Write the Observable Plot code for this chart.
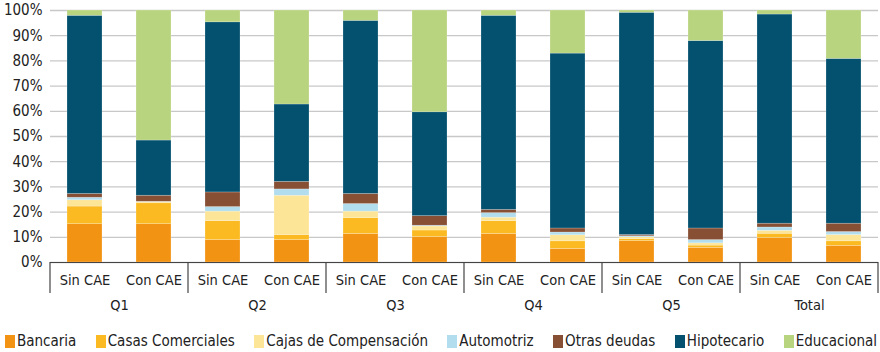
<!DOCTYPE html>
<html><head><meta charset="utf-8">
<script src="https://cdn.jsdelivr.net/npm/d3@7"></script>
<script src="https://cdn.jsdelivr.net/npm/@observablehq/plot@0.6"></script>
<style>
body{margin:0;background:#fff;font-family:"Liberation Sans Narrow","DejaVu Sans Condensed",sans-serif;color:#222;}
#chart{width:880px;height:322px;}
.legend{display:flex;justify-content:space-between;align-items:center;padding:10px 3px 0 5px;font-size:15px;color:#222;width:872px;}
.legend .item{display:flex;align-items:center;gap:2px;white-space:nowrap;}
.legend .sw{width:10px;height:13px;display:inline-block;}
</style>
</head><body>
<div id="chart"></div>
<div class="legend" id="legend"></div>
<script>
const groups = ["Q1","Q2","Q3","Q4","Q5","Total"];
const caes = ["Sin CAE","Con CAE"];
const series = ["Bancaria","Casas Comerciales","Cajas de Compensación","Automotriz","Otras deudas","Hipotecario","Educacional"];
const colors = ["#F39313","#FBBA22","#FDE597","#B1DDEE","#875035","#03516F","#B9D47F"];
// values per series, order: Q1 Sin, Q1 Con, Q2 Sin, Q2 Con, ..., Total Sin, Total Con
const bancaria     = [15.2,15.2, 8.9, 8.9,11.3,10.1,11.3, 5.4, 8.5, 5.8, 9.7, 6.6];
const casas        = [ 7.0, 8.3, 7.5, 2.0, 6.3, 2.6, 5.1, 3.0, 0.8, 0.9, 1.7, 1.8];
const cajas        = [ 2.5, 0.5, 3.8,15.6, 2.6, 1.6, 1.4, 2.4, 0.7, 0.9, 1.2, 2.5];
const automotriz   = [ 1.0, 0.1, 1.8, 2.5, 3.0, 0.3, 1.8, 1.1, 0.4, 1.3, 1.3, 1.2];
const otras        = [ 1.5, 2.4, 5.8, 3.0, 4.0, 3.8, 1.3, 1.6, 0.5, 4.6, 1.5, 3.3];
const hipotecario  = [70.7,21.9,67.5,30.7,68.7,41.2,77.0,69.4,88.2,74.4,83.0,65.4];
const educacional  = [ 2.1,51.6, 4.7,37.3, 4.1,40.4, 2.1,17.1, 0.9,12.1, 1.6,19.2];
const yTicks = [0,10,20,30,40,50,60,70,80,90,100];

const seriesValues = [bancaria, casas, cajas, automotriz, otras, hipotecario, educacional];
const rows = [];
series.forEach((s, si) => {
  groups.forEach((g, gi) => {
    caes.forEach((c, ci) => {
      rows.push({group: g, cae: c, serie: s, value: seriesValues[si][gi*2+ci]});
    });
  });
});

const chart = Plot.plot({
  width: 880,
  height: 322,
  marginLeft: 50,
  marginRight: 2,
  marginTop: 10,
  marginBottom: 60,
  style: {fontFamily: '"Liberation Sans Narrow","DejaVu Sans Condensed",sans-serif', color: "#222", background: "#fff"},
  fx: {domain: groups, padding: 0, label: null},
  x: {domain: caes, paddingInner: 0.5, paddingOuter: 0.25, label: null},
  y: {domain: [0, 100], label: null},
  color: {domain: series, range: colors},
  marks: [
    Plot.gridY(yTicks, {stroke: "#c8c8c8", strokeOpacity: 1, strokeWidth: 1.3}),
    Plot.barY(rows, Plot.stackY({order: null}, {fx: "group", x: "cae", y: "value", fill: "serie", stroke: "white", strokeWidth: 0.6, strokeOpacity: 0.35})),
    Plot.ruleY([0], {stroke: "#444", strokeWidth: 1.2}),
    Plot.axisY(yTicks, {tickSize: 0, tickPadding: 8, tickFormat: d => d + "%", fontSize: 15, label: null}),
    Plot.axisX({anchor: "bottom", tickSize: 0, tickPadding: 12, fontSize: 14.5, label: null}),
    Plot.axisFx({anchor: "bottom", tickSize: 0, tickPadding: 37, fontSize: 14.5, label: null})
  ]
});
document.getElementById("chart").appendChild(chart);

// group separator lines under the baseline, from library scales
const fx = chart.scale("fx");
const y = chart.scale("y");
const y0 = y.apply(0);
const edges = groups.map(g => fx.apply(g)).concat([fx.apply(groups[groups.length-1]) + fx.bandwidth]);
const svg = d3.select(chart);
svg.append("g").selectAll("line").data(edges).join("line")
  .attr("x1", d => d).attr("x2", d => d)
  .attr("y1", y0).attr("y2", y0 + 31)
  .attr("stroke", "#444").attr("stroke-width", 1.2);

const legend = d3.select("#legend");
series.forEach((s, i) => {
  const it = legend.append("div").attr("class", "item");
  it.append("span").attr("class", "sw").style("background", colors[i]);
  it.append("span").text(s);
});
</script>
</body></html>
